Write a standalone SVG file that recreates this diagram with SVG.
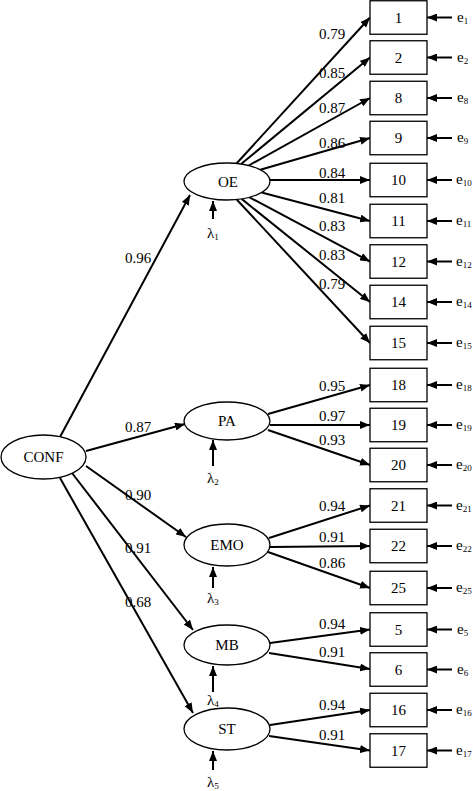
<svg xmlns="http://www.w3.org/2000/svg" width="473" height="791" viewBox="0 0 473 791" font-family="'Liberation Serif', 'DejaVu Serif', serif">
<style>
text{font-family:'Liberation Serif','DejaVu Serif',serif;fill:#000}
.lbl{font-size:15px}
.box rect{fill:#fff;stroke:#000;stroke-width:1.3}
.box text{font-size:15px;text-anchor:middle}
ellipse{fill:#fff;stroke:#000;stroke-width:1.3}
.node text{font-size:15px;text-anchor:middle}
.c line{stroke:#000;stroke-width:2;marker-end:url(#ah)}
.err{font-size:15px}
.sub{font-size:9px}
</style>
<defs>
<marker id="ah" viewBox="0 0 10 8" refX="10" refY="4" markerWidth="10" markerHeight="8" markerUnits="userSpaceOnUse" orient="auto">
<path d="M0,0 L10,4 L0,8 z" fill="#000"/>
</marker>
</defs>

<g id="connectors" class="c">
<line x1="60" y1="437" x2="190" y2="195"/>
<line x1="86" y1="451" x2="185" y2="424"/>
<line x1="86" y1="466" x2="186" y2="537"/>
<line x1="72" y1="473" x2="193" y2="630"/>
<line x1="60" y1="478" x2="193" y2="713"/>
<line x1="236.5" y1="163.5" x2="370" y2="17.5"/>
<line x1="241.1" y1="164" x2="370" y2="57.5"/>
<line x1="248.7" y1="165.5" x2="370" y2="98"/>
<line x1="260.3" y1="169.8" x2="370" y2="138"/>
<line x1="270" y1="180" x2="370" y2="180"/>
<line x1="261.6" y1="192.5" x2="370" y2="221"/>
<line x1="249.5" y1="197.3" x2="370" y2="261.5"/>
<line x1="241.6" y1="198.9" x2="370" y2="302"/>
<line x1="236.7" y1="199.5" x2="370" y2="343"/>
<line x1="268" y1="414" x2="370" y2="385"/>
<line x1="270" y1="425" x2="370" y2="425"/>
<line x1="268" y1="430" x2="370" y2="465"/>
<line x1="269" y1="538" x2="370" y2="505.5"/>
<line x1="270" y1="547" x2="370" y2="546"/>
<line x1="268" y1="552" x2="370" y2="588"/>
<line x1="270" y1="643" x2="370" y2="629.5"/>
<line x1="269" y1="653" x2="370" y2="669"/>
<line x1="270" y1="725" x2="370" y2="710"/>
<line x1="269" y1="736" x2="370" y2="750.5"/>
<line x1="213" y1="219" x2="213" y2="201"/>
<line x1="213" y1="466" x2="213" y2="440"/>
<line x1="213" y1="588" x2="213" y2="567"/>
<line x1="213" y1="692" x2="213" y2="666"/>
<line x1="213" y1="770" x2="213" y2="751"/>
<line x1="452" y1="17.5" x2="427" y2="17.5"/>
<line x1="452" y1="57.5" x2="427" y2="57.5"/>
<line x1="452" y1="98" x2="427" y2="98"/>
<line x1="452" y1="138" x2="427" y2="138"/>
<line x1="452" y1="180" x2="427" y2="180"/>
<line x1="452" y1="221" x2="427" y2="221"/>
<line x1="452" y1="261.5" x2="427" y2="261.5"/>
<line x1="452" y1="302" x2="427" y2="302"/>
<line x1="452" y1="343" x2="427" y2="343"/>
<line x1="452" y1="385" x2="427" y2="385"/>
<line x1="452" y1="425" x2="427" y2="425"/>
<line x1="452" y1="465" x2="427" y2="465"/>
<line x1="452" y1="505.5" x2="427" y2="505.5"/>
<line x1="452" y1="546" x2="427" y2="546"/>
<line x1="452" y1="588" x2="427" y2="588"/>
<line x1="452" y1="629.5" x2="427" y2="629.5"/>
<line x1="452" y1="669.5" x2="427" y2="669.5"/>
<line x1="452" y1="710" x2="427" y2="710"/>
<line x1="452" y1="750.5" x2="427" y2="750.5"/>
</g>

<g id="path-labels" class="lbl">
<text x="125" y="263">0.96</text>
<text x="125" y="432">0.87</text>
<text x="125" y="500">0.90</text>
<text x="125" y="553">0.91</text>
<text x="125" y="607">0.68</text>
<text x="319" y="39">0.79</text>
<text x="319" y="78">0.85</text>
<text x="319" y="113">0.87</text>
<text x="319" y="148">0.86</text>
<text x="319" y="178">0.84</text>
<text x="319" y="203">0.81</text>
<text x="319" y="231">0.83</text>
<text x="319" y="260">0.83</text>
<text x="319" y="289">0.79</text>
<text x="319" y="391">0.95</text>
<text x="319" y="421">0.97</text>
<text x="319" y="445">0.93</text>
<text x="319" y="511">0.94</text>
<text x="319" y="542">0.91</text>
<text x="319" y="568">0.86</text>
<text x="319" y="629">0.94</text>
<text x="319" y="657">0.91</text>
<text x="319" y="710">0.94</text>
<text x="319" y="740">0.91</text>
</g>

<g id="CONF" class="node"><ellipse cx="43.5" cy="457" rx="42.5" ry="22"/><text x="43.5" y="462">CONF</text></g>
<g id="OE" class="node"><ellipse cx="227" cy="181.5" rx="43" ry="18.5"/><text x="228" y="186.5">OE</text></g>
<g id="PA" class="node"><ellipse cx="227" cy="421" rx="43" ry="19"/><text x="227" y="426">PA</text></g>
<g id="EMO" class="node"><ellipse cx="227" cy="545" rx="43" ry="21"/><text x="227" y="550">EMO</text></g>
<g id="MB" class="node"><ellipse cx="227" cy="645" rx="43" ry="20"/><text x="227" y="650">MB</text></g>
<g id="ST" class="node"><ellipse cx="227" cy="729" rx="43" ry="21"/><text x="227" y="734">ST</text></g>

<g id="lambda1"><text class="err" x="207" y="238">λ<tspan class="sub" dy="2">1</tspan></text></g>
<g id="lambda2"><text class="err" x="207" y="483">λ<tspan class="sub" dy="2">2</tspan></text></g>
<g id="lambda3"><text class="err" x="207" y="603">λ<tspan class="sub" dy="2">3</tspan></text></g>
<g id="lambda4"><text class="err" x="207" y="705">λ<tspan class="sub" dy="2">4</tspan></text></g>
<g id="lambda5"><text class="err" x="207" y="787">λ<tspan class="sub" dy="2">5</tspan></text></g>

<g id="item1" class="box"><rect x="370" y="0.75" width="57" height="33.5"/><text x="398.5" y="22.5">1</text></g>
<g id="item2" class="box"><rect x="370" y="40.75" width="57" height="33.5"/><text x="398.5" y="62.5">2</text></g>
<g id="item8" class="box"><rect x="370" y="81.25" width="57" height="33.5"/><text x="398.5" y="103">8</text></g>
<g id="item9" class="box"><rect x="370" y="121.25" width="57" height="33.5"/><text x="398.5" y="143">9</text></g>
<g id="item10" class="box"><rect x="370" y="163.25" width="57" height="33.5"/><text x="398.5" y="185">10</text></g>
<g id="item11" class="box"><rect x="370" y="204.25" width="57" height="33.5"/><text x="398.5" y="226">11</text></g>
<g id="item12" class="box"><rect x="370" y="244.75" width="57" height="33.5"/><text x="398.5" y="266.5">12</text></g>
<g id="item14" class="box"><rect x="370" y="285.25" width="57" height="33.5"/><text x="398.5" y="307">14</text></g>
<g id="item15" class="box"><rect x="370" y="326.25" width="57" height="33.5"/><text x="398.5" y="348">15</text></g>
<g id="item18" class="box"><rect x="370" y="368.25" width="57" height="33.5"/><text x="398.5" y="390">18</text></g>
<g id="item19" class="box"><rect x="370" y="408.25" width="57" height="33.5"/><text x="398.5" y="430">19</text></g>
<g id="item20" class="box"><rect x="370" y="448.25" width="57" height="33.5"/><text x="398.5" y="470">20</text></g>
<g id="item21" class="box"><rect x="370" y="488.75" width="57" height="33.5"/><text x="398.5" y="510.5">21</text></g>
<g id="item22" class="box"><rect x="370" y="529.25" width="57" height="33.5"/><text x="398.5" y="551">22</text></g>
<g id="item25" class="box"><rect x="370" y="571.25" width="57" height="33.5"/><text x="398.5" y="593">25</text></g>
<g id="item5" class="box"><rect x="370" y="612.75" width="57" height="33.5"/><text x="398.5" y="634.5">5</text></g>
<g id="item6" class="box"><rect x="370" y="652.75" width="57" height="33.5"/><text x="398.5" y="674.5">6</text></g>
<g id="item16" class="box"><rect x="370" y="693.25" width="57" height="33.5"/><text x="398.5" y="715">16</text></g>
<g id="item17" class="box"><rect x="370" y="733.75" width="57" height="33.5"/><text x="398.5" y="755.5">17</text></g>

<g id="errors" class="err">
<text x="457" y="21.5">e<tspan class="sub" dy="2">1</tspan></text>
<text x="457" y="61.5">e<tspan class="sub" dy="2">2</tspan></text>
<text x="457" y="102">e<tspan class="sub" dy="2">8</tspan></text>
<text x="457" y="142">e<tspan class="sub" dy="2">9</tspan></text>
<text x="456" y="184">e<tspan class="sub" dy="2">10</tspan></text>
<text x="456" y="225">e<tspan class="sub" dy="2">11</tspan></text>
<text x="456" y="265.5">e<tspan class="sub" dy="2">12</tspan></text>
<text x="456" y="306">e<tspan class="sub" dy="2">14</tspan></text>
<text x="456" y="347">e<tspan class="sub" dy="2">15</tspan></text>
<text x="456" y="389">e<tspan class="sub" dy="2">18</tspan></text>
<text x="456" y="429">e<tspan class="sub" dy="2">19</tspan></text>
<text x="456" y="469">e<tspan class="sub" dy="2">20</tspan></text>
<text x="456" y="509.5">e<tspan class="sub" dy="2">21</tspan></text>
<text x="456" y="550">e<tspan class="sub" dy="2">22</tspan></text>
<text x="456" y="592">e<tspan class="sub" dy="2">25</tspan></text>
<text x="457" y="633.5">e<tspan class="sub" dy="2">5</tspan></text>
<text x="457" y="673.5">e<tspan class="sub" dy="2">6</tspan></text>
<text x="456" y="714">e<tspan class="sub" dy="2">16</tspan></text>
<text x="456" y="754.5">e<tspan class="sub" dy="2">17</tspan></text>
</g>
</svg>
